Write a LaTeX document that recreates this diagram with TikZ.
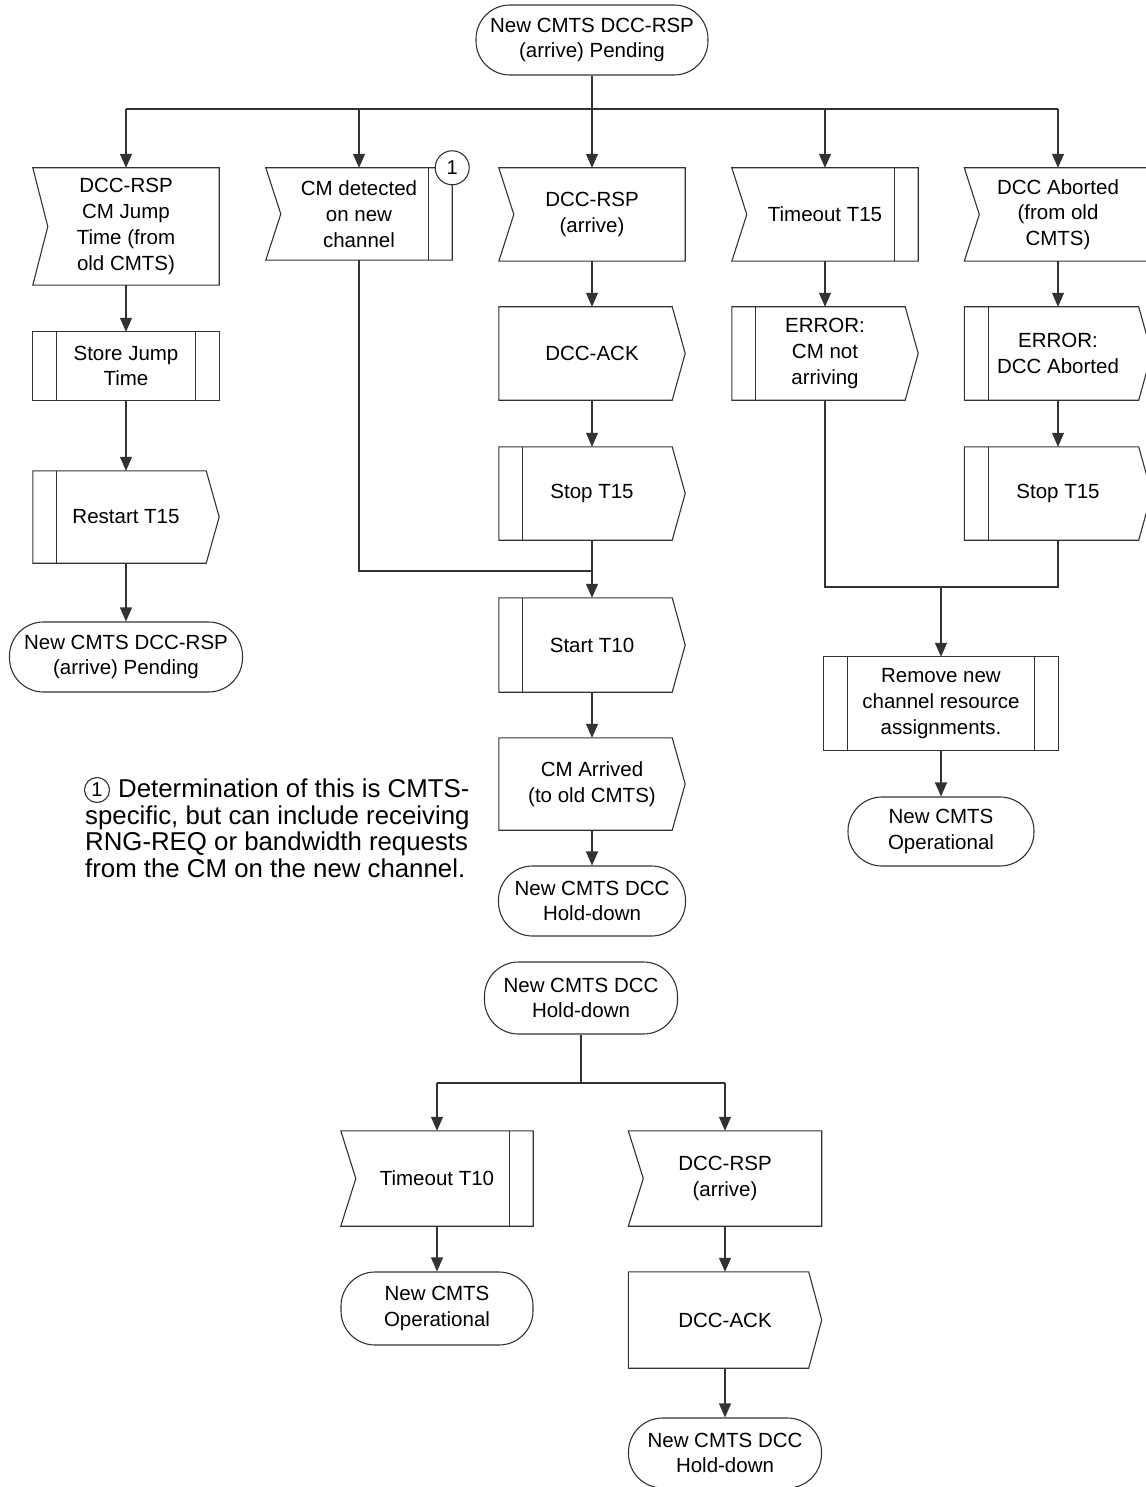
\documentclass[tikz,border=0pt]{standalone}
\usepackage{fontspec}
\setmainfont{Liberation Sans}
\usetikzlibrary{arrows.meta,positioning,calc}
\definecolor{sdlline}{RGB}{50,50,50}

% SDL symbol outlines, drawn round a plain rectangle node
\newcommand\sdlin[1]{\draw[outline] (#1.north west) -- (#1.north east) -- (#1.south east) -- (#1.south west) -- ([xshift=15pt]#1.west) -- cycle;}
\newcommand\sdlout[1]{\draw[outline] (#1.north west) -- ([xshift=-13pt]#1.north east) -- (#1.east) -- ([xshift=-13pt]#1.south east) -- (#1.south west) -- cycle;}
\newcommand\sdlproc[1]{\draw[outline] (#1.north west) rectangle (#1.south east);}
\newcommand\lbar[1]{\draw[outline] ([xshift=24pt]#1.north west) -- ([xshift=24pt]#1.south west);}
\newcommand\rbar[1]{\draw[outline] ([xshift=-24pt]#1.north east) -- ([xshift=-24pt]#1.south east);}

\begin{document}
\begin{tikzpicture}[x=1pt, y=-1pt,
    outline/.style={draw=sdlline, line width=1.1pt},
    conn/.style={draw=sdlline, line width=1.1pt},
    arr/.style={conn, -{Triangle[width=12pt,length=14pt]}},
    box/.style={rectangle, minimum width=186pt, minimum height=93pt, inner sep=0pt, align=center, font={\fontsize{20.5}{25.8}\selectfont}},
    sdlstate/.style={box, outline, rounded corners=34pt, minimum height=70pt}
]
    \useasboundingbox (0,0) rectangle (1145,1487);

    % first state
    \node[sdlstate, minimum width=232pt] (pend) at (592,40) {New CMTS DCC-RSP\\(arrive) Pending};
    \coordinate (fork) at (592,109);

    \node[box, minimum height=117pt] (jump) at (126,226.5) {DCC-RSP\\CM Jump\\Time (from\\old CMTS)};
    \node[box, minimum height=92pt] (detect) at (359,214) {CM detected\\on new\\channel};
    \node[box] (rsp) at (592,214.5) {DCC-RSP\\(arrive)};
    \node[box] (tmo15) at (825,214.5) {Timeout T15};
    \node[box, minimum width=187pt] (abort) at (1058,214.5) {DCC Aborted\\(from old\\CMTS)};

    \node[box, minimum height=68pt] (store) at (126,366) {Store Jump\\Time};
    \node[box] (ack) at (592,353.5) {DCC-ACK};
    \node[box] (err1) at (825,353.5) {ERROR:\\CM not\\arriving};
    \node[box, minimum width=187pt] (err2) at (1058,353.5) {ERROR:\\DCC Aborted};

    \node[box, minimum height=92pt] (restart) at (126,517) {Restart T15};
    \node[box] (stop1) at (592,493.5) {Stop T15};
    \node[box, minimum width=187pt] (stop2) at (1058,493.5) {Stop T15};
    \node[sdlstate, minimum width=233pt] (pend2) at (126,657) {New CMTS DCC-RSP\\(arrive) Pending};

    \coordinate (join) at (592,571);
    \coordinate (merge) at (941,587);
    \node[box, minimum height=94pt] (start) at (592,645) {Start T10};
    \node[box, minimum width=234pt] (remove) at (941,703.5) {Remove new\\channel resource\\assignments.};
    \node[box, minimum height=92pt] (arrived) at (592,784) {CM Arrived\\(to old CMTS)};
    \node[sdlstate, minimum height=69pt] (oper1) at (941,831.5) {New CMTS\\Operational};
    \node[sdlstate, minimum width=187pt] (hold1) at (592,901) {New CMTS DCC\\Hold-down};

    % footnote
    \node[circle, outline, minimum size=25pt, inner sep=0pt, font={\fontsize{20}{24}\selectfont}] (fnmark) at (97,790) {1};
    \node[anchor=north west, align=left, inner sep=0pt, font={\fontsize{25.8}{26.5}\selectfont}] (fntext) at (85,779) {\hspace*{33pt}Determination of this is CMTS-\\specific, but can include receiving\\RNG-REQ or bandwidth requests\\from the CM on the new channel.};

    % second diagram
    \node[sdlstate, minimum width=193pt, minimum height=72pt] (hold2) at (581,998) {New CMTS DCC\\Hold-down};
    \coordinate (fork2) at (581,1083);
    \node[box, minimum width=192pt, minimum height=95pt] (tmo10) at (437,1178.5) {Timeout T10};
    \node[box, minimum width=193pt, minimum height=95pt] (rsp2) at (725,1178.5) {DCC-RSP\\(arrive)};
    \node[sdlstate, minimum width=192pt, minimum height=73pt] (oper2) at (437,1308.5) {New CMTS\\Operational};
    \node[box, minimum width=193pt, minimum height=96pt] (ack2) at (725,1320) {DCC-ACK};
    \node[sdlstate, minimum width=193pt] (hold3) at (725,1453) {New CMTS DCC\\Hold-down};

    % symbol outlines
    \foreach \n in {jump,detect,rsp,tmo15,abort,tmo10,rsp2} \sdlin{\n};
    \foreach \n in {detect,tmo15,tmo10} \rbar{\n};
    \foreach \n in {ack,err1,err2,restart,stop1,stop2,start,arrived,ack2} \sdlout{\n};
    \foreach \n in {err1,err2,restart,stop1,stop2,start} \lbar{\n};
    \foreach \n in {store,remove} {\sdlproc{\n} \lbar{\n} \rbar{\n}}
    \node[circle, outline, fill=white, minimum size=34pt, inner sep=0pt, font={\fontsize{20}{24}\selectfont}] (mark) at (detect.north east) {1};

    % connectors
    \draw[conn] (pend) -- (fork);
    \draw[conn] (jump.north |- fork) -- (abort.north |- fork);
    \foreach \n in {jump,detect,rsp,tmo15,abort} \draw[arr] (\n.north |- fork) -- (\n);
    \draw[arr] (jump) -- (store);
    \draw[arr] (store) -- (restart);
    \draw[arr] (restart) -- (pend2);
    \draw[arr] (rsp) -- (ack);
    \draw[arr] (ack) -- (stop1);
    \draw[conn] (detect) |- (join);
    \draw[arr] (stop1) -- (start);
    \draw[arr] (start) -- (arrived);
    \draw[arr] (arrived) -- (hold1);
    \draw[arr] (tmo15) -- (err1);
    \draw[arr] (abort) -- (err2);
    \draw[arr] (err2) -- (stop2);
    \draw[conn] (err1) |- (merge) -| (stop2);
    \draw[arr] (merge) -- (remove);
    \draw[arr] (remove) -- (oper1);

    \draw[conn] (hold2) -- (fork2);
    \draw[conn] (tmo10.north |- fork2) -- (rsp2.north |- fork2);
    \foreach \n in {tmo10,rsp2} \draw[arr] (\n.north |- fork2) -- (\n);
    \draw[arr] (tmo10) -- (oper2);
    \draw[arr] (rsp2) -- (ack2);
    \draw[arr] (ack2) -- (hold3);
\end{tikzpicture}
\end{document}
